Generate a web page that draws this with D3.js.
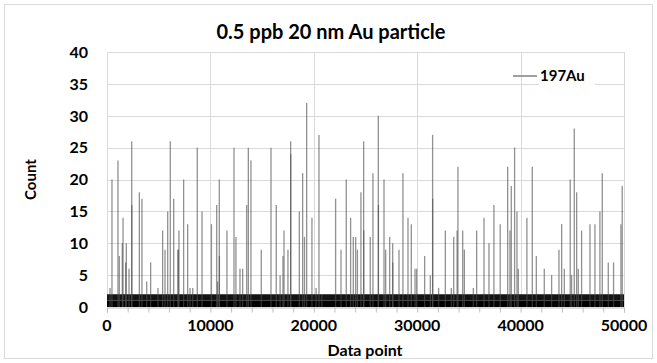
<!DOCTYPE html>
<html>
<head>
<meta charset="utf-8">
<script src="https://cdn.jsdelivr.net/npm/d3@7"></script>
<style>
  body { margin: 0; background: #fff; }
  text { font-family: Lato, "Open Sans", sans-serif; font-weight: bold; fill: #000; }
</style>
</head>
<body>
<svg id="chart" width="657" height="363"></svg>
<script>
// 197Au signal spikes: data point index and count
const spikePos = [
  290, 480, 1060, 1190, 1480, 1550, 1800, 1870, 2130, 2390, 2400, 3130, 3380, 3840, 4220, 4930,
  5380, 5610, 5870, 6120, 6450, 6870, 6880, 6960, 7410, 7800, 8030, 8290, 8730, 9190,
  10100, 10610, 10700, 10860, 10870, 11600, 12280, 12470, 12860, 13120, 13510, 13670, 13920,
  14920, 15860, 16370, 16740, 17020, 17120, 17500, 17760, 17770, 18600, 18920, 19100, 19310, 19820,
  20220, 20500, 20780, 22110, 22630, 23140, 23560, 23820, 24050, 24220, 24560, 24820, 24830,
  25460, 25720, 26240, 26250, 26790, 26950, 27340, 27630, 27640, 28240, 28620, 29110, 29430,
  29790, 29950, 30720, 31270, 31490, 31500, 32070, 32720, 33300, 33530, 33860, 33940, 34400,
  34560, 35430, 35750, 36460, 36940, 37420, 38030, 38750, 38970, 39100, 39420, 39650, 39780,
  40610, 41130, 41520, 42290, 43000, 43710, 43970, 44230, 44800, 44930, 45190, 45420, 45580,
  45900, 46710, 47190, 47670, 47900, 48480, 48990, 49700, 49830
]
const spikeCount = [
  3, 20, 23, 8, 10, 14, 7, 10, 6, 26, 16, 18, 17, 4, 7, 3,
  12, 9, 15, 26, 17, 9, 9, 12, 20, 13, 3, 3, 25, 15,
  13, 16, 4, 20, 8, 12, 25, 11, 6, 6, 16, 25, 23,
  9, 25, 16, 5, 8, 12, 9, 26, 24, 15, 21, 11, 32, 14,
  3, 27, 2, 17, 9, 20, 14, 11, 11, 9, 18, 26, 12,
  11, 21, 30, 16, 20, 9, 11, 10, 7, 9, 21, 14, 13,
  6, 6, 8, 5, 27, 17, 3, 12, 3, 11, 12, 22, 12,
  9, 3, 12, 14, 10, 16, 13, 22, 12, 19, 25, 15, 6,
  14, 22, 8, 6, 5, 9, 13, 6, 20, 5, 28, 18, 6,
  12, 13, 13, 15, 21, 7, 7, 13, 19
]
// background counts that fill the bottom band
const noiseLevels = [1, 2]

const xTicks = [0, 10000, 20000, 30000, 40000, 50000]
const yTicks = [0, 5, 10, 15, 20, 25, 30, 35, 40]
const seriesName = '197Au'
const chartTitle = '0.5 ppb 20 nm Au particle'

const width = 657
const height = 363
const plot = { left: 107, right: 624, top: 52, bottom: 307 }

const svg = d3.select('#chart')

svg.append('rect')
  .attr('x', 4.5).attr('y', 4.5)
  .attr('width', width - 9).attr('height', height - 9)
  .attr('fill', '#fff')
  .attr('stroke', '#d9d9d9')

const x = d3.scaleLinear()
  .domain([0, 50000])
  .range([plot.left, plot.right])

const y = d3.scaleLinear()
  .domain([0, 40])
  .range([plot.bottom, plot.top])

// gridlines
const grid = svg.append('g').attr('stroke', '#d9d9d9').attr('stroke-width', 1)
grid.selectAll('line.h')
  .data(yTicks.slice(1))
  .join('line')
    .attr('x1', plot.left).attr('x2', plot.right)
    .attr('y1', (d) => Math.round(y(d)) + 0.5)
    .attr('y2', (d) => Math.round(y(d)) + 0.5)
grid.selectAll('line.v')
  .data(xTicks)
  .join('line')
    .attr('class', 'v')
    .attr('y1', plot.top).attr('y2', plot.bottom)
    .attr('x1', (d) => Math.round(x(d)) + 0.5)
    .attr('x2', (d) => Math.round(x(d)) + 0.5)

// x axis with minor ticks every 2000 points
const xAxis = d3.axisBottom(x)
  .tickValues(d3.range(0, 50001, 2000))
  .tickSize(5)
  .tickFormat('')
const xAxisG = svg.append('g')
  .attr('transform', `translate(0,${plot.bottom + 0.5})`)
  .call(xAxis)
xAxisG.select('.domain').attr('stroke', '#bfbfbf')
xAxisG.selectAll('.tick line').attr('stroke', '#bfbfbf')

// background band
svg.append('g')
  .selectAll('rect')
  .data(noiseLevels)
  .join('rect')
    .attr('x', x(0))
    .attr('width', x(50000) - x(0))
    .attr('y', (d) => y(d))
    .attr('height', (d, i) => y(i === 0 ? 0 : noiseLevels[i - 1]) - y(d))
    .attr('fill', (d, i) => i === 0 ? '#000' : '#141414')

// spikes
const spikes = spikePos.map((p, i) => ({ p, c: spikeCount[i] }))
svg.append('g')
  .selectAll('line')
  .data(spikes)
  .join('line')
    .attr('x1', (d) => x(d.p))
    .attr('x2', (d) => x(d.p))
    .attr('y1', y(0))
    .attr('y2', (d) => y(d.c))
    .attr('stroke', '#4d4d4d')
    .attr('stroke-opacity', 0.62)
    .attr('stroke-width', 1.3)

// tick labels
svg.append('g')
  .selectAll('text')
  .data(yTicks)
  .join('text')
    .attr('x', 88)
    .attr('y', (d) => y(d))
    .attr('dy', '0.36em')
    .attr('text-anchor', 'end')
    .style('font-size', '16px')
    .text((d) => d)

svg.append('g')
  .selectAll('text')
  .data(xTicks)
  .join('text')
    .attr('x', (d) => x(d))
    .attr('y', 331)
    .attr('text-anchor', 'middle')
    .style('font-size', '16px')
    .text((d) => d)

// titles
svg.append('text')
  .attr('x', 331).attr('y', 39)
  .attr('text-anchor', 'middle')
  .style('font-size', '20px')
  .text(chartTitle)

svg.append('text')
  .attr('x', 365).attr('y', 356)
  .attr('text-anchor', 'middle')
  .style('font-size', '16px')
  .text('Data point')

svg.append('text')
  .attr('transform', `translate(36,${(plot.top + plot.bottom) / 2}) rotate(-90)`)
  .attr('text-anchor', 'middle')
  .style('font-size', '15px')
  .text('Count')

// legend
const legend = svg.append('g').attr('transform', 'translate(513,76)')
legend.append('rect')
  .attr('x', 26).attr('y', -10)
  .attr('width', 56).attr('height', 20)
  .attr('fill', '#fff')
legend.append('line')
  .attr('x1', 0).attr('x2', 24)
  .attr('stroke', '#808080')
  .attr('stroke-width', 1.5)
legend.append('text')
  .attr('x', 27).attr('dy', '0.36em')
  .style('font-size', '15px')
  .text(seriesName)
</script>
</body>
</html>
